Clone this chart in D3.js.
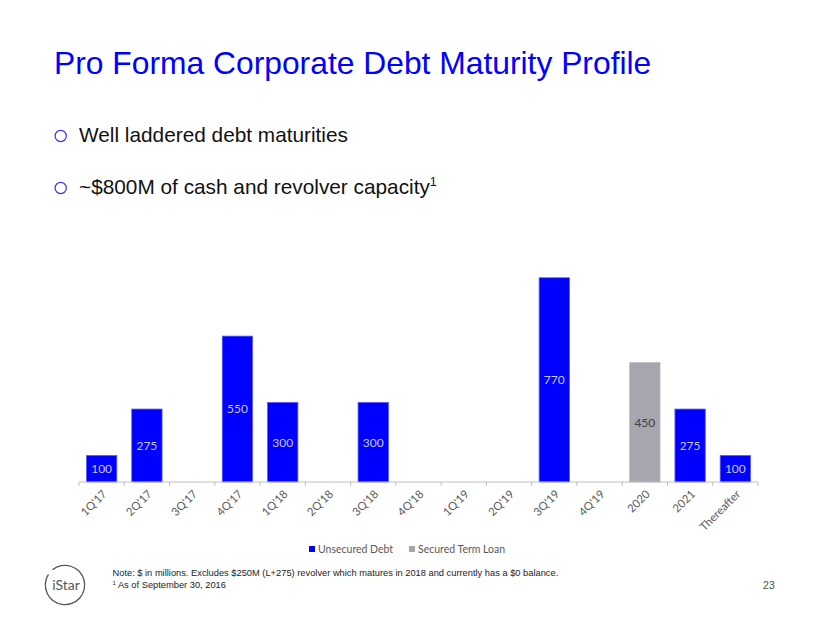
<!DOCTYPE html>
<html>
<head>
<meta charset="utf-8">
<script src="https://cdn.jsdelivr.net/npm/d3@7"></script>
<style>
  html, body { margin: 0; padding: 0; background: #fff; }
  svg { display: block; }
</style>
</head>
<body>
<script>
const categories = ["1Q'17","2Q'17","3Q'17","4Q'17","1Q'18","2Q'18","3Q'18","4Q'18","1Q'19","2Q'19","3Q'19","4Q'19","2020","2021","Thereafter"];
const unsecuredDebt = [100, 275, 0, 550, 300, 0, 300, 0, 0, 0, 770, 0, 0, 275, 100];
const securedTermLoan = [0, 0, 0, 0, 0, 0, 0, 0, 0, 0, 0, 0, 450, 0, 0];
const seriesNames = ["Unsecured Debt", "Secured Term Loan"];
const seriesColors = ["#0000FF", "#A6A6AE"];
const labelColors = ["#C8C8FF", "#404040"];

const W = 830, H = 623;
const svg = d3.select("body").append("svg").attr("width", W).attr("height", H);

// Title
svg.append("text").attr("x", 54).attr("y", 73.5)
  .attr("font-family", "Liberation Sans, Arial, sans-serif").attr("font-size", 31.8)
  .attr("fill", "#0000FF").text("Pro Forma Corporate Debt Maturity Profile");

// Bullets
const bullets = [
  {y: 142, text: "Well laddered debt maturities", sup: null},
  {y: 194, text: "~$800M of cash and revolver capacity", sup: "1"}
];
bullets.forEach(b => {
  svg.append("circle").attr("cx", 60.7).attr("cy", b.y - 6).attr("r", 5.6)
    .attr("fill", "none").attr("stroke", "#3333FF").attr("stroke-width", 1.2);
  const t = svg.append("text").attr("x", 79).attr("y", b.y)
    .attr("font-family", "Liberation Sans, Arial, sans-serif").attr("font-size", 20.8)
    .attr("fill", "#111");
  t.append("tspan").text(b.text);
  if (b.sup) t.append("tspan").attr("font-size", 12.5).attr("dy", -8).text(b.sup);
});

// Chart
const x0 = 79, x1 = 758, yBase = 482;
const x = d3.scaleBand().domain(categories).range([x0, x1]).paddingInner(0.33).paddingOuter(0.165);
const y = d3.scaleLinear().domain([0, 800]).range([yBase, yBase - 212.2]);

const rows = categories.map((c, i) => ({c, vals: [unsecuredDebt[i], securedTermLoan[i]]}));
const g = svg.append("g");
rows.forEach(r => {
  r.vals.forEach((v, s) => {
    if (!v) return;
    g.append("rect").attr("x", x(r.c)).attr("width", x.bandwidth())
      .attr("y", y(v)).attr("height", y(0) - y(v))
      .attr("fill", seriesColors[s]).attr("stroke", s === 0 ? "#5A5AFF" : "#B8B8C0").attr("stroke-width", 0.8);
    g.append("text").attr("x", x(r.c) + x.bandwidth() / 2).attr("y", (y(v) + y(0)) / 2)
      .attr("dy", "0.36em").attr("text-anchor", "middle")
      .attr("font-family", "Lato, Open Sans, sans-serif").attr("font-size", 12)
      .attr("fill", labelColors[s]).text(v);
  });
});

// Axis
const axis = d3.axisBottom(x).tickSizeInner(4).tickSizeOuter(4).tickFormat("");
const ag = svg.append("g").attr("transform", `translate(0,${yBase})`).call(axis);
ag.selectAll("path, line").attr("stroke", "#BFBFBF");
// Ticks at band boundaries instead of centres
ag.selectAll(".tick line").attr("transform", `translate(${-x.step() / 2},0)`);
ag.append("line").attr("x1", x1).attr("x2", x1).attr("y1", 0).attr("y2", 4).attr("stroke", "#BFBFBF");
ag.select(".domain").attr("d", `M${x0},0H${x1}`);

categories.forEach(c => {
  svg.append("text")
    .attr("transform", `translate(${x(c) + x.bandwidth() / 2 + 3},${yBase + 10}) rotate(-45)`)
    .attr("text-anchor", "end").attr("dy", "0.35em")
    .attr("font-family", "Lato, Open Sans, sans-serif").attr("font-size", 11.3)
    .attr("fill", "#595959").text(c);
});

// Legend
const legendItems = [{x: 309, i: 0}, {x: 409, i: 1}];
legendItems.forEach(l => {
  svg.append("rect").attr("x", l.x).attr("y", 546).attr("width", 6).attr("height", 6).attr("fill", seriesColors[l.i]);
  svg.append("text").attr("x", l.x + 9).attr("y", 552.5)
    .attr("font-family", "Lato, Open Sans, sans-serif").attr("font-size", 10.5)
    .attr("fill", "#595959").text(seriesNames[l.i]);
});

// Logo
const arc = d3.arc().innerRadius(19).outerRadius(20.3).startAngle(-Math.PI * 0.22).endAngle(Math.PI * 1.68);
svg.append("path").attr("d", arc()).attr("transform", "translate(65,585)").attr("fill", "#555");
svg.append("text").attr("x", 66).attr("y", 590).attr("text-anchor", "middle")
  .attr("font-family", "Lato, Open Sans, sans-serif").attr("font-size", 14).attr("fill", "#555").text("iStar");

// Footnotes
const foot = "Liberation Sans Narrow, Arial Narrow, Liberation Sans, sans-serif";
svg.append("text").attr("x", 112.5).attr("y", 576).attr("font-family", foot).attr("font-size", 9.3)
  .attr("fill", "#222").text("Note: $ in millions. Excludes $250M (L+275) revolver which matures in 2018 and currently has a $0 balance.");
const f2 = svg.append("text").attr("x", 112.5).attr("y", 587.5).attr("font-family", foot).attr("font-size", 9.3).attr("fill", "#222");
f2.append("tspan").attr("font-size", 6).attr("dy", -3).text("1");
f2.append("tspan").attr("dy", 3).text(" As of September 30, 2016");

svg.append("text").attr("x", 775).attr("y", 589).attr("text-anchor", "end")
  .attr("font-family", foot).attr("font-size", 11).attr("fill", "#555").text("23");
</script>
</body>
</html>
